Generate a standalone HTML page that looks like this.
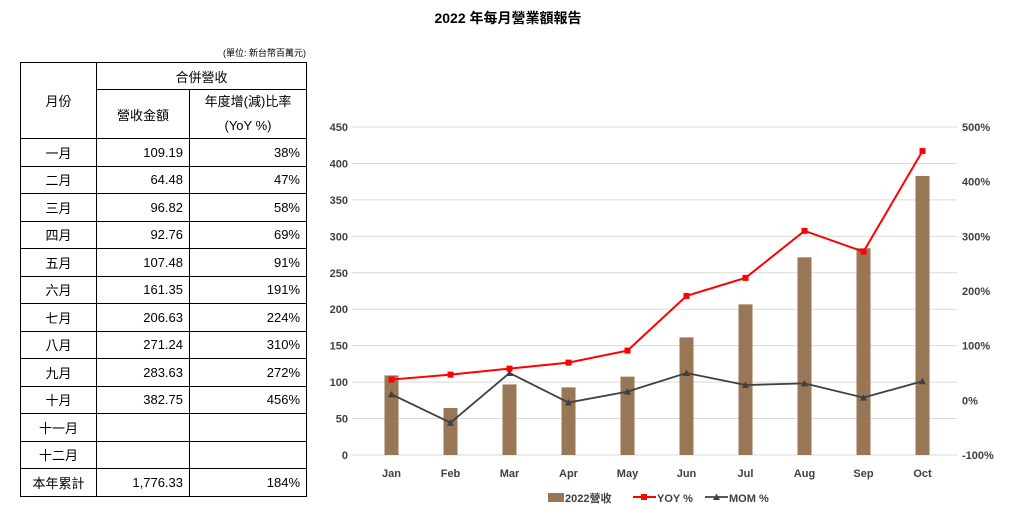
<!DOCTYPE html>
<html><head><meta charset="utf-8"><style>
body{margin:0;width:1016px;height:514px;background:#fff;font-family:"Liberation Sans","Noto Sans CJK TC",sans-serif;position:relative;overflow:hidden;color:#000}
#title{position:absolute;left:0;width:1016px;top:8px;text-align:center;font-weight:bold;font-size:14px}
#unit{position:absolute;left:200px;width:106px;top:46px;font-size:9px;text-align:right}
table{position:absolute;left:20px;top:62px;border-collapse:collapse;font-size:13px}
td{border:1px solid #000;padding:0 6px;height:27.5px;box-sizing:border-box}
td.c{text-align:center}td.r{text-align:right}
</style></head><body>
<div id="title">2022 年每月營業額報告</div>
<div id="unit">(單位: 新台幣百萬元)</div>
<table>
<tr><td class="c" rowspan="2" style="width:76px">月份</td><td class="c" colspan="2" style="height:27px">合併營收</td></tr>
<tr><td class="c" style="width:93px;height:49px">營收金額</td><td class="c" style="width:117px;line-height:24px">年度增(減)比率<br>(YoY %)</td></tr>
<tbody id="tb"></tbody>
</table>
<svg id="chart" width="1016" height="514" style="position:absolute;left:0;top:0"></svg>
<script>
const months=["Jan","Feb","Mar","Apr","May","Jun","Jul","Aug","Sep","Oct"];
const monthsZh=["一月","二月","三月","四月","五月","六月","七月","八月","九月","十月","十一月","十二月"];
const revenue=[109.19,64.48,96.82,92.76,107.48,161.35,206.63,271.24,283.63,382.75];
const yoy=[38,47,58,69,91,191,224,310,272,456];
const mom=[11,-41,50,-4,16,50,28,31,5,35];
const leftTicks=[0,50,100,150,200,250,300,350,400,450];
const rightTicks=[-100,0,100,200,300,400,500];
const tb=document.getElementById('tb');
monthsZh.forEach((m,i)=>{const tr=document.createElement('tr');


tr.innerHTML='<td class="c">'+m+'</td><td class="r">'+(revenue[i]!=null?revenue[i].toFixed(2):'')+'</td><td class="r">'+(yoy[i]!=null?yoy[i]+'%':'')+'</td>';tb.appendChild(tr);});
{const tr=document.createElement('tr');


tr.innerHTML='<td class="c">本年累計</td><td class="r">1,776.33</td><td class="r">184%</td>';tb.appendChild(tr);}
const svg=document.getElementById('chart');const NS='http://www.w3.org/2000/svg';
function el(t,a,p){const e=document.createElementNS(NS,t);for(const k in a)e.setAttribute(k,a[k]);(p||svg).appendChild(e);return e;}
const x0=362,x1=952,yB=455,yT=127;
const step=(x1-x0)/months.length;
const xc=i=>x0+step*(i+0.5);
const yL=v=>yB-(v/450)*(yB-yT);
const yR=v=>yB-((v+100)/600)*(yB-yT);
leftTicks.forEach(t=>{const l=el('line',{x1:352,x2:957,y1:yL(t),y2:yL(t),stroke:'#d9d9d9','stroke-width':1});


const tx=el('text',{x:348,y:yL(t)+4,'text-anchor':'end','font-size':11,'font-weight':'bold',fill:'#404040'});tx.textContent=t;

});
rightTicks.forEach(t=>{const tx=el('text',{x:962,y:yR(t)+4,'font-size':11,'font-weight':'bold',fill:'#404040'});tx.textContent=t+'%';

});
months.forEach((m,i)=>{const b=el('rect',{x:xc(i)-7,y:yL(revenue[i]),width:14,height:yB-yL(revenue[i]),fill:'#997656'});


const tx=el('text',{x:xc(i),y:477,'text-anchor':'middle','font-size':11,'font-weight':'bold',fill:'#404040'});tx.textContent=m;

});
const yl=el('polyline',{points:yoy.map((v,i)=>xc(i)+','+yR(v)).join(' '),fill:'none',stroke:'#ff0000','stroke-width':2});


yoy.forEach((v,i)=>{const r=el('rect',{x:xc(i)-3,y:yR(v)-3,width:6,height:6,fill:'#ff0000'});

});
const ml=el('polyline',{points:mom.map((v,i)=>xc(i)+','+yR(v)).join(' '),fill:'none',stroke:'#404040','stroke-width':1.8});


mom.forEach((v,i)=>{const p=el('polygon',{points:(xc(i)-3.5)+','+(yR(v)+3)+' '+(xc(i)+3.5)+','+(yR(v)+3)+' '+xc(i)+','+(yR(v)-3.5),fill:'#404040'});

});
const lg=el('g',{});


el('rect',{x:548,y:493,width:16,height:9,fill:'#997656'},lg);
let t1=el('text',{x:565,y:502,'font-size':11,'font-weight':'bold',fill:'#404040'},lg);t1.textContent='2022營收';
el('line',{x1:633,x2:656,y1:497,y2:497,stroke:'#ff0000','stroke-width':2},lg);
el('rect',{x:641,y:494,width:6,height:6,fill:'#ff0000'},lg);
let t2=el('text',{x:657,y:502,'font-size':11,'font-weight':'bold',fill:'#404040'},lg);t2.textContent='YOY %';
el('line',{x1:705,x2:728,y1:497,y2:497,stroke:'#404040','stroke-width':1.8},lg);
el('polygon',{points:'713,500 720,500 716.5,493.5',fill:'#404040'},lg);
let t3=el('text',{x:729,y:502,'font-size':11,'font-weight':'bold',fill:'#404040'},lg);t3.textContent='MOM %';
</script>
</body></html>
